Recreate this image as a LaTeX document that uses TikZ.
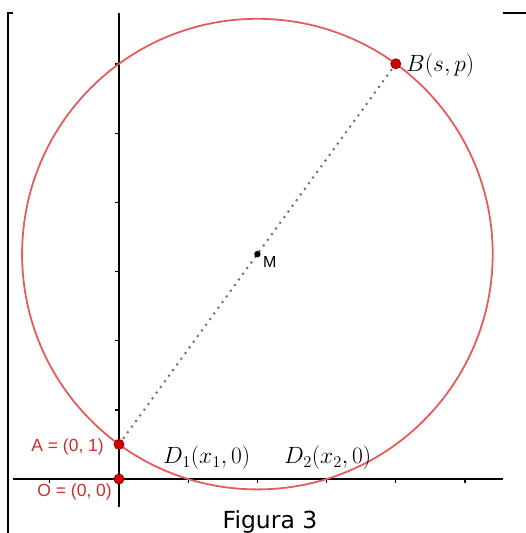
\RequirePackage{fix-cm}
\documentclass[tikz,border=0pt]{standalone}
\usepackage{fontspec}
\newfontfamily\ggbfont{Liberation Sans}
\newfontfamily\figfont{DejaVu Sans}
\usetikzlibrary{backgrounds}
\definecolor{circred}{RGB}{228,92,92}
\definecolor{ptred}{RGB}{210,0,0}
\definecolor{ptdark}{RGB}{150,0,0}
\definecolor{labred}{RGB}{205,45,45}
\definecolor{dotgray}{RGB}{110,110,110}
\tikzset{
  ptnode/.style={circle,fill=ptred,draw=ptdark,line width=0.8pt,inner sep=0pt,minimum size=10pt},
  mdot/.style={circle,fill=black,inner sep=0pt,minimum size=6.5pt},
  axisline/.style={line width=1.3pt,black},
  tickline/.style={line width=1.1pt,black},
  circline/.style={line width=1.8pt,circred},
  dotline/.style={line width=2pt,dotgray,dash pattern=on 2pt off 5pt},
  ptlabel/.style={text=labred,inner sep=0pt,font=\ggbfont\fontsize{17.5}{21}\selectfont},
  mathlabel/.style={inner sep=0pt,font=\fontsize{23.5}{28}\selectfont},
  framelin/.style={line width=1.3pt,black}
}
\begin{document}
\begin{tikzpicture}[x=1pt,y=-1pt]
\useasboundingbox (0,0) rectangle (526,533);
% points
\node[ptnode] (O) at (119,479) {};
\node[ptnode] (A) at (119,444.4) {};
\node[ptnode] (B) at (395.8,63.8) {};
\node[mdot] (M) at (257.4,254.1) {};
\coordinate (ytop) at (119,13);
\coordinate (ybot) at (119,507);
\coordinate (xleft) at (13,479);
\coordinate (xright) at (503,479);
\begin{scope}[on background layer]
  % frame remnants
  \draw[framelin] (13,13) -- (8,13) -- (8,533);
  \draw[framelin] (503,13) -- (526,13);
  % axes
  \draw[axisline] (ytop) -- (ybot);
  \draw[axisline] (xleft) -- (xright);
  \foreach \yy in {64,133.2,202.4,271.6,340.8} \draw[tickline] (119,\yy) -- (115,\yy);
  \draw[tickline] (119,410) -- (115,410);
  \foreach \xx in {49.8,188.2,257.4,326.6,395.8,465} \draw[tickline] (\xx,479) -- (\xx,483);
  % circle
  \draw[circline] (M.center) circle[radius=235.3pt];
  % diameter
  \draw[dotline] (A.center) -- (B.center);
\end{scope}
% labels
\node[ptlabel,anchor=east] (Alab) at (104,446.5) {A = (0, 1)};
\node[ptlabel,anchor=east] (Olab) at (112,491.5) {O = (0, 0)};
\node[inner sep=0pt,anchor=base west,font=\ggbfont\fontsize{16}{19}\selectfont] (Mlab) at (263,267) {M};
\node[mathlabel,anchor=base west] (Blab) at (406,71) {$B(s,p)$};
\node[mathlabel,anchor=base west] (D1lab) at (163,463.5) {$D_1(x_1,0)$};
\node[mathlabel,anchor=base west] (D2lab) at (284,463.5) {$D_2(x_2,0)$};
\node[inner sep=0pt,anchor=base,font=\figfont\fontsize{23.5}{28}\selectfont] (cap) at (270,528) {Figura 3};
\end{tikzpicture}
\end{document}
